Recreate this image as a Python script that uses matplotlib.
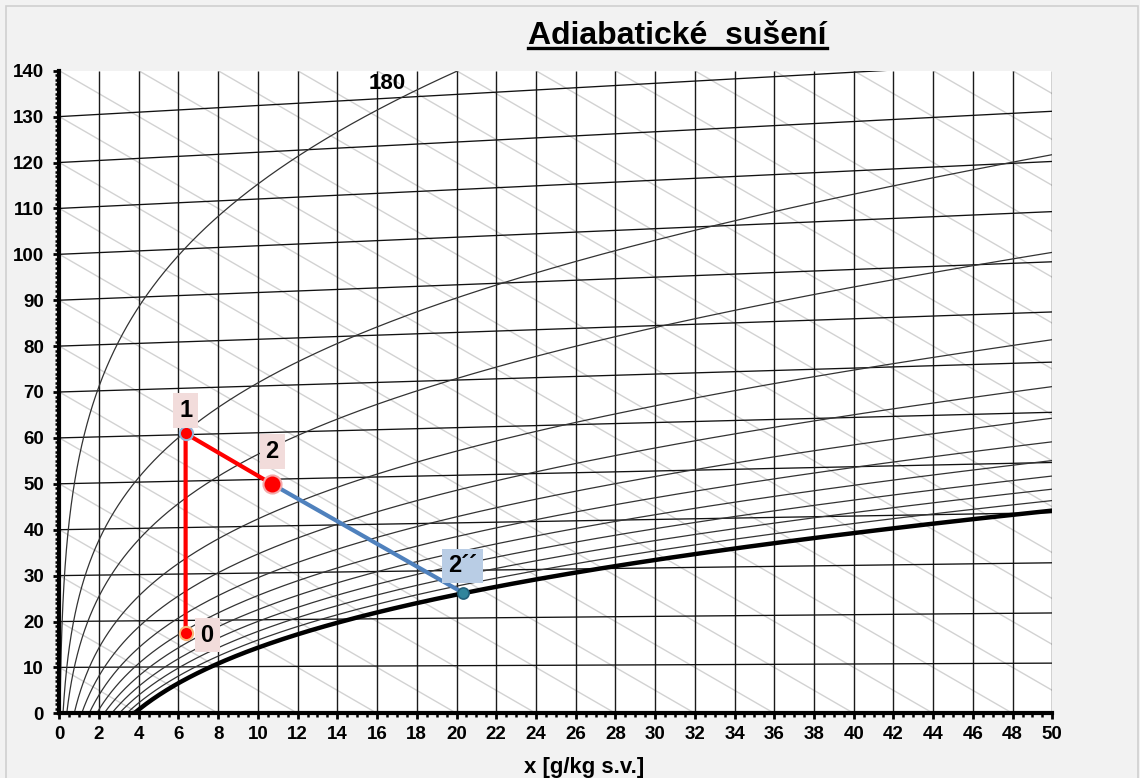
import numpy as np
import matplotlib.pyplot as plt
from matplotlib.ticker import MultipleLocator
from matplotlib.patches import Rectangle
from matplotlib.lines import Line2D

plt.rcParams['font.family'] = ['Liberation Sans', 'DejaVu Sans']
plt.rcParams['font.weight'] = 'bold'

# parametry diagramu h-x
phi_levels = [0.01, 0.05, 0.1, 0.2, 0.3, 0.4, 0.5, 0.6, 0.7, 0.8, 0.9]
t_isotherms = [0, 10, 20, 30, 40, 50, 60, 70, 80, 90, 100, 110, 120, 130]
h_levels = list(range(10, 280, 10))
x_ticks = list(range(0, 51, 2))
y_ticks = list(range(0, 141, 10))

# body procesu
pt_names = ['0', '1', '2', "2´´"]
pt_x = [6.36, 6.36, 10.73, 20.31]
pt_y = [17.4, 60.96, 49.9, 26.3]
lab_x = [7.44, 6.37, 10.72, 20.30]
lab_y = [17.05, 66.0, 57.0, 32.1]

P = 101325.0


def p_sat(t):
    return np.exp(23.5771 - 4042.9 / (t + 273.15 - 37.58))


def x_of(t, phi):
    pv = phi * p_sat(t)
    return 622.0 * pv / (P - pv)


def y_of(t, x):
    return t * (1 + 0.00186 * x)


fig = plt.figure(figsize=(11.4, 7.78), dpi=100, facecolor='#f2f2f2')
fig.add_artist(Rectangle((6 / 1140, -0.02), 1132 / 1140, 1 - 6 / 778 + 0.02,
                         transform=fig.transFigure, fill=False,
                         edgecolor='#d0d0d0', lw=1.2))
ax = fig.add_axes([59.3 / 1140, 1 - 713.3 / 778, 993 / 1140, 642.6 / 778])
ax.set_facecolor('white')

# izentalpy (sede)
xx = np.array([0.0, 50.0])
for h in h_levels:
    ax.plot(xx, h - 2.5 * xx, color='#d2d2d2', lw=1.0, zorder=1)

# svisle mrizky
ax.vlines(x_ticks, 0, 140, color='#1a1a1a', lw=1.0, zorder=2)

# izotermy
for t in t_isotherms:
    ax.plot(xx, y_of(t, xx), color='#111111', lw=0.95, zorder=2)

# krivky konstantni vlhkosti
tt = np.linspace(0, 200, 4000)
for phi in phi_levels:
    pv = phi * p_sat(tt)
    m = pv < 0.9 * P
    xs = x_of(tt[m], phi)
    ys = y_of(tt[m], xs)
    k = xs <= 55
    ax.plot(xs[k], ys[k], color='#333333', lw=0.9, zorder=2)

# mez nasyceni
ts = np.linspace(0, 60, 600)
xs = x_of(ts, 1.0)
ax.plot(xs, y_of(ts, xs), color='black', lw=3.2, zorder=3, solid_capstyle='butt')

ax.text(16.49, 137.2, '180', fontsize=16, fontweight='bold', ha='center', va='center', zorder=4)

# proces
ax.plot([pt_x[0], pt_x[1], pt_x[2]], [pt_y[0], pt_y[1], pt_y[2]], color='#ff0000', lw=3, zorder=5)
ax.plot([pt_x[2], pt_x[3]], [pt_y[2], pt_y[3]], color='#4f81bd', lw=3, zorder=5)
ax.plot(pt_x[0], pt_y[0], 'o', ms=9.5, mfc='#ff0000', mec='#f9b77a', mew=1.5, zorder=6)
ax.plot(pt_x[1], pt_y[1], 'o', ms=9.5, mfc='#ff0000', mec='#95b3d7', mew=1.5, zorder=6)
ax.plot(pt_x[2], pt_y[2], 'o', ms=13, mfc='#ff0000', mec='#f4a8a8', mew=1.5, zorder=6)
ax.plot(pt_x[3], pt_y[3], 'o', ms=8, mfc='#31859c', mec='#215f7a', mew=1.2, zorder=6)

box_cols = ['#f2dcdb', '#f2dcdb', '#f2dcdb', '#b9cde5']
for name, lx, ly, c in zip(pt_names, lab_x, lab_y, box_cols):
    ax.text(lx, ly, name, fontsize=17, fontweight='bold', ha='center', va='center', zorder=7,
            bbox=dict(boxstyle='square,pad=0.25', fc=c, ec='none'))

ax.set_xlim(0, 50)
ax.set_ylim(0, 140)
ax.set_xticks(x_ticks)
ax.set_yticks(y_ticks)
ax.xaxis.set_minor_locator(MultipleLocator(0.5))
ax.yaxis.set_minor_locator(MultipleLocator(1))
ax.tick_params(which='major', direction='out', length=4, width=2, labelsize=13.5, color='black')
ax.tick_params(axis='x', which='major', pad=5)
ax.tick_params(axis='y', which='major', pad=7)
ax.tick_params(which='minor', direction='out', length=3, width=1.8, color='black')
for lbl in ax.get_xticklabels() + ax.get_yticklabels():
    lbl.set_fontweight('bold')
for s in ['top', 'right']:
    ax.spines[s].set_visible(False)
for s in ['left', 'bottom']:
    ax.spines[s].set_linewidth(3)
    ax.spines[s].set_zorder(8)

fig.text(584 / 1140, 1 - 773 / 778, 'x [g/kg s.v.]', fontsize=16, fontweight='bold',
         ha='center', va='baseline')

title = fig.text(677.5 / 1140, 1 - 43.5 / 778, 'Adiabatické  sušení', fontsize=23,
                 fontweight='bold', ha='center', va='baseline')
fig.canvas.draw()
bb = title.get_window_extent()
W, H = fig.bbox.width, fig.bbox.height
uy = 1 - 47.5 / 778
fig.add_artist(Line2D([bb.x0 / W, bb.x1 / W], [uy, uy], transform=fig.transFigure,
                      color='black', lw=2.4))

fig.savefig('out.png', dpi=100, facecolor=fig.get_facecolor())
